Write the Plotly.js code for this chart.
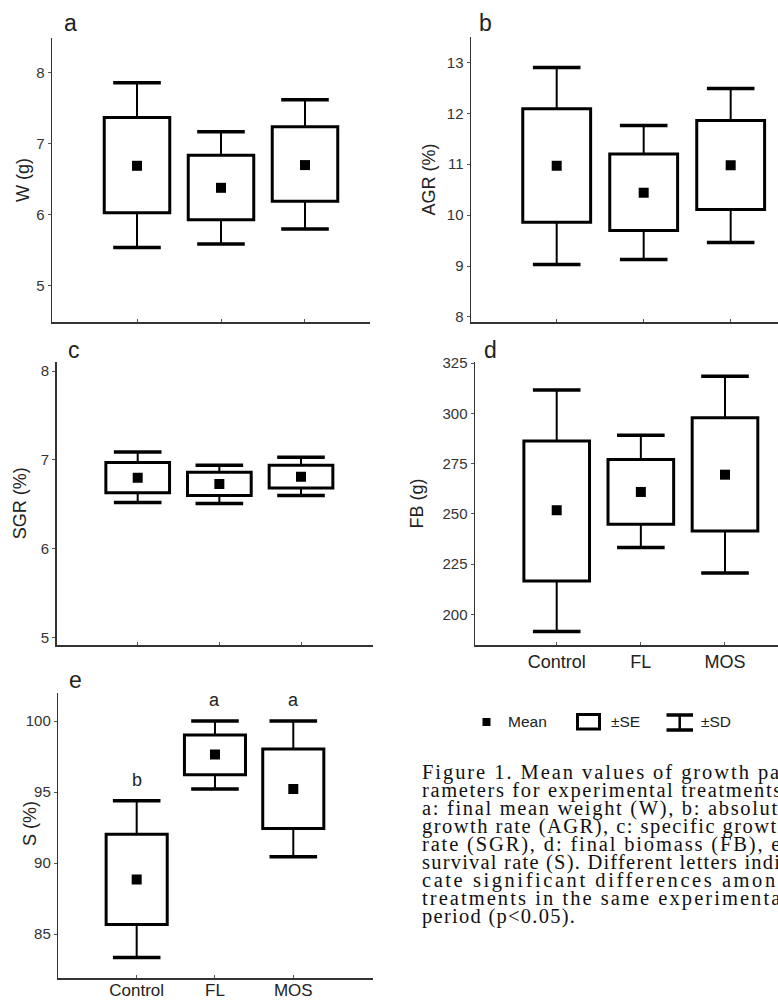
<!DOCTYPE html>
<html><head><meta charset="utf-8">
<script src="https://cdn.plot.ly/plotly-3.0.1.min.js"></script>
<style>html,body{margin:0;padding:0;background:#fff;}</style>
</head><body>
<div id="chart" style="width:778px;height:1000px;"></div>
<script>
// ---------- data ----------
const categories = ['Control', 'FL', 'MOS'];

// a: final mean weight W (g)
const wMean = [6.69, 6.38, 6.70];
const wSeLo = [6.03, 5.93, 6.19];
const wSeHi = [7.37, 6.84, 7.24];
const wSdLo = [5.54, 5.59, 5.80];
const wSdHi = [7.86, 7.17, 7.62];

// b: absolute growth rate AGR (%)
const agrMean = [10.97, 10.44, 10.98];
const agrSeLo = [9.86, 9.70, 10.11];
const agrSeHi = [12.09, 11.20, 11.86];
const agrSdLo = [9.03, 9.13, 9.46];
const agrSdHi = [12.90, 11.76, 12.49];

// c: specific growth rate SGR (%)
const sgrMean = [6.80, 6.73, 6.81];
const sgrSeLo = [6.63, 6.60, 6.685];
const sgrSeHi = [6.97, 6.86, 6.94];
const sgrSdLo = [6.52, 6.51, 6.60];
const sgrSdHi = [7.09, 6.94, 7.03];

// d: final biomass FB (g)
const fbMean = [251.8, 260.9, 269.5];
const fbSeLo = [216.6, 244.8, 241.4];
const fbSeHi = [286.3, 277.0, 297.9];
const fbSdLo = [191.4, 233.2, 220.5];
const fbSdHi = [311.7, 289.1, 318.5];

// e: survival rate S (%)
const sMean = [88.85, 97.65, 95.21];
const sSeLo = [85.68, 96.22, 92.44];
const sSeHi = [92.04, 99.01, 98.03];
const sSdLo = [83.36, 95.21, 90.45];
const sSdHi = [94.39, 100.0, 100.0];
const sigLetters = ['b', 'a', 'a'];

const panelLetters = ['a', 'b', 'c', 'd', 'e'];
const yTitles = ['W (g)', 'AGR (%)', 'SGR (%)', 'FB (g)', 'S (%)'];
const legendLabels = ['Mean', '\u00b1SE', '\u00b1SD'];
const captionLines = [
  'Figure 1. Mean values of growth pa-',
  'rameters for experimental treatments.',
  'a: final mean weight (W), b: absolute',
  'growth rate (AGR), c: specific growth',
  'rate (SGR), d: final biomass (FB), e:',
  'survival rate (S). Different letters indi-',
  'cate significant differences among',
  'treatments in the same experimental',
  'period (p<0.05).'
];

// ---------- layout helpers ----------
const W = 778, H = 1000;
const dx = px => px / W;
const dy = py => 1 - py / H;
const SANS = 'Liberation Sans, Arial, Helvetica, sans-serif';
const SERIF = 'Liberation Serif, Times New Roman, serif';

const series = [
  {mean: wMean, seLo: wSeLo, seHi: wSeHi, sdLo: wSdLo, sdHi: wSdHi},
  {mean: agrMean, seLo: agrSeLo, seHi: agrSeHi, sdLo: agrSdLo, sdHi: agrSdHi},
  {mean: sgrMean, seLo: sgrSeLo, seHi: sgrSeHi, sdLo: sgrSdLo, sdHi: sgrSdHi},
  {mean: fbMean, seLo: fbSeLo, seHi: fbSeHi, sdLo: fbSdLo, sdHi: fbSdHi},
  {mean: sMean, seLo: sSeLo, seHi: sSeHi, sdLo: sSdLo, sdHi: sSdHi}
];

const frames = [
  {xpx: [52, 370],      ypx: [38, 322],      xr: [-1.012, 2.774], yr: [4.49, 8.49],   dtick: 1,  standoff: 2,  showx: false, xfs: 18, xls: 0,  axisTitle: true,  letter: [70, 23]},
  {xpx: [471, 778],     ypx: [37, 322],      xr: [-0.985, 2.544], yr: [7.9, 13.5],    dtick: 1,  standoff: 6,  showx: false, xfs: 18, xls: 0,  axisTitle: true,  letter: [486, 23]},
  {xpx: [56.7, 372.7],  ypx: [361.7, 645],   xr: [-0.992, 2.878], yr: [4.918, 8.105], dtick: 1,  standoff: 9,  showx: false, xfs: 18, xls: 0,  axisTitle: true,  letter: [74, 350]},
  {xpx: [475, 778],     ypx: [362, 645],     xr: [-0.971, 2.63],  yr: [184.7, 325.6], dtick: 25, standoff: 14, showx: true,  xfs: 18, xls: 0,  axisTitle: true,  letter: [490, 350]},
  {xpx: [58.3, 373],    ypx: [693.3, 978.3], xr: [-1.001, 3.018], yr: [81.9, 101.95], dtick: 5,  standoff: 0,  showx: true,  xfs: 17, xls: -4, axisTitle: false, letter: [75, 680], titlePos: [30, 824]}
];

const traces = [];
const layout = {
  width: W, height: H,
  margin: {l: 0, r: 0, t: 0, b: 0},
  paper_bgcolor: '#fff',
  plot_bgcolor: 'rgba(0,0,0,0)',
  showlegend: false,
  font: {family: SANS, color: '#222'},
  annotations: [],
  shapes: []
};

series.forEach((s, i) => {
  const n = i === 0 ? '' : String(i + 1);
  const xa = 'x' + n, ya = 'y' + n;
  const f = frames[i];
  const zeros = s.mean.map(() => 0);

  // ±SE box
  traces.push({
    type: 'bar', x: categories, base: s.seLo,
    y: s.seHi.map((v, k) => v - s.seLo[k]),
    width: 0.78, xaxis: xa, yaxis: ya,
    marker: {color: '#ffffff', line: {color: '#000', width: 3}},
    hoverinfo: 'skip'
  });
  // ±SD upper whisker + cap
  traces.push({
    type: 'scatter', mode: 'markers', x: categories, y: s.sdHi, xaxis: xa, yaxis: ya,
    marker: {symbol: 'line-ew', size: 34, color: '#000', line: {color: '#000', width: 3.5}},
    error_y: {type: 'data', symmetric: false, array: zeros,
              arrayminus: s.sdHi.map((v, k) => v - s.seHi[k]),
              width: 0, thickness: 2, color: '#000'},
    hoverinfo: 'skip'
  });
  // ±SD lower whisker + cap
  traces.push({
    type: 'scatter', mode: 'markers', x: categories, y: s.sdLo, xaxis: xa, yaxis: ya,
    marker: {symbol: 'line-ew', size: 34, color: '#000', line: {color: '#000', width: 3.5}},
    error_y: {type: 'data', symmetric: false, arrayminus: zeros,
              array: s.seLo.map((v, k) => v - s.sdLo[k]),
              width: 0, thickness: 2, color: '#000'},
    hoverinfo: 'skip'
  });
  // mean
  traces.push({
    type: 'scatter', mode: 'markers', x: categories, y: s.mean, xaxis: xa, yaxis: ya,
    marker: {symbol: 'square', size: 10, color: '#000'},
    hoverinfo: 'skip'
  });

  layout['xaxis' + n] = {
    domain: [dx(f.xpx[0]), dx(f.xpx[1])], anchor: ya,
    type: 'category', categoryorder: 'array', categoryarray: categories,
    range: f.xr, showline: true, linecolor: '#333', linewidth: 1.5,
    ticks: 'inside', ticklen: 3, tickcolor: '#555', tickwidth: 1,
    showticklabels: f.showx, tickfont: {size: f.xfs, color: '#222', family: SANS},
    ticklabelstandoff: f.xls,
    showgrid: false, zeroline: false, fixedrange: true
  };
  const yax = {
    domain: [dy(f.ypx[1]), dy(f.ypx[0])], anchor: xa,
    range: f.yr, dtick: f.dtick, tick0: 0,
    showline: true, linecolor: '#333', linewidth: 1.5,
    ticks: 'outside', ticklen: 3, tickcolor: '#555', tickwidth: 1,
    tickfont: {size: 15, color: '#333', family: SANS},
    showgrid: false, zeroline: false, fixedrange: true
  };
  if (f.axisTitle) {
    yax.title = {text: yTitles[i], font: {size: 18, color: '#222', family: SANS}, standoff: f.standoff};
  } else {
    layout.annotations.push({
      xref: 'paper', yref: 'paper', x: dx(f.titlePos[0]), y: dy(f.titlePos[1]),
      xanchor: 'center', yanchor: 'middle', textangle: -90, showarrow: false,
      text: yTitles[i], font: {size: 18, color: '#222', family: SANS}
    });
  }
  layout['yaxis' + n] = yax;

  layout.annotations.push({
    xref: 'paper', yref: 'paper', x: dx(f.letter[0]), y: dy(f.letter[1]),
    xanchor: 'center', yanchor: 'middle', showarrow: false,
    text: panelLetters[i], font: {size: 23, color: '#222', family: SANS}
  });
});

// significance letters in panel e
sigLetters.forEach((t, k) => {
  layout.annotations.push({
    xref: 'x5', yref: 'y5', x: categories[k], y: sSdHi[k],
    xanchor: 'center', yanchor: 'bottom', yshift: 9, showarrow: false,
    text: t, font: {size: 18, color: '#222', family: SANS}
  });
});

// legend (custom)
layout.shapes.push({type: 'rect', xref: 'paper', yref: 'paper',
  x0: dx(482.5), x1: dx(490.5), y0: dy(726), y1: dy(718),
  fillcolor: '#000', line: {width: 0}});
layout.shapes.push({type: 'rect', xref: 'paper', yref: 'paper',
  x0: dx(577.5), x1: dx(599.5), y0: dy(729), y1: dy(714.5),
  fillcolor: 'rgba(0,0,0,0)', line: {width: 3, color: '#000'}});
layout.shapes.push({type: 'path', xref: 'paper', yref: 'paper',
  path: 'M' + dx(666.5) + ',' + dy(715) + 'H' + dx(693) + 'M' + dx(666.5) + ',' + dy(730) + 'H' + dx(693),
  line: {width: 3.5, color: '#000'}});
layout.shapes.push({type: 'path', xref: 'paper', yref: 'paper',
  path: 'M' + dx(679.7) + ',' + dy(715) + 'V' + dy(730),
  line: {width: 2.5, color: '#000'}});
[[506, legendLabels[0]], [609, legendLabels[1]], [699, legendLabels[2]]].forEach(([px, t]) => {
  layout.annotations.push({
    xref: 'paper', yref: 'paper', x: dx(px), y: dy(721),
    xanchor: 'left', yanchor: 'middle', showarrow: false,
    text: t, font: {size: 15.5, color: '#222', family: SANS}
  });
});

// caption: one multi-line text, leading and justification set after drawing
const CAP_SIZE = 20.5, CAP_LEAD = 18, CAP_BASE = 779, CAP_LEFT = 420, CAP_COL = 366, CAP_LAST = 153;
const captionIdx = layout.annotations.length;
layout.annotations.push({
  xref: 'paper', yref: 'paper', x: dx(CAP_LEFT), y: dy(762),
  xanchor: 'left', yanchor: 'top', align: 'left', showarrow: false,
  text: captionLines.join('<br>'), font: {size: CAP_SIZE, color: '#111', family: SERIF}
});

Plotly.newPlot('chart', traces, layout, {staticPlot: true, displayModeBar: false}).then(gd => {
  const t = gd.querySelector('.annotation[data-index="' + captionIdx + '"] text.annotation-text');
  if (!t) return;
  const lines = Array.from(t.querySelectorAll('tspan.line'));
  if (!lines.length) return;
  // leading
  lines.forEach((ln, k) => ln.setAttribute('dy', (k * CAP_LEAD) + 'px'));
  // move first baseline to its place in the print
  const y0 = parseFloat(lines[0].getAttribute('y')) || 0;
  const svg = t.ownerSVGElement;
  const p = svg.createSVGPoint();
  p.x = 0; p.y = y0;
  const m = t.getCTM();
  const cur = m ? p.matrixTransform(m).y : y0;
  const shift = (CAP_BASE - cur) / (m ? m.d : 1);
  lines.forEach(ln => ln.setAttribute('y', y0 + shift));
  // justification by tracking
  lines.forEach((ln, k) => {
    const natural = ln.getComputedTextLength();
    const chars = ln.textContent.length;
    const target = k === lines.length - 1 ? CAP_LAST : CAP_COL;
    const ls = (target - natural) / Math.max(1, chars - 1);
    if (ls > 0) ln.style.letterSpacing = ls.toFixed(3) + 'px';
  });
});
</script>
</body></html>
